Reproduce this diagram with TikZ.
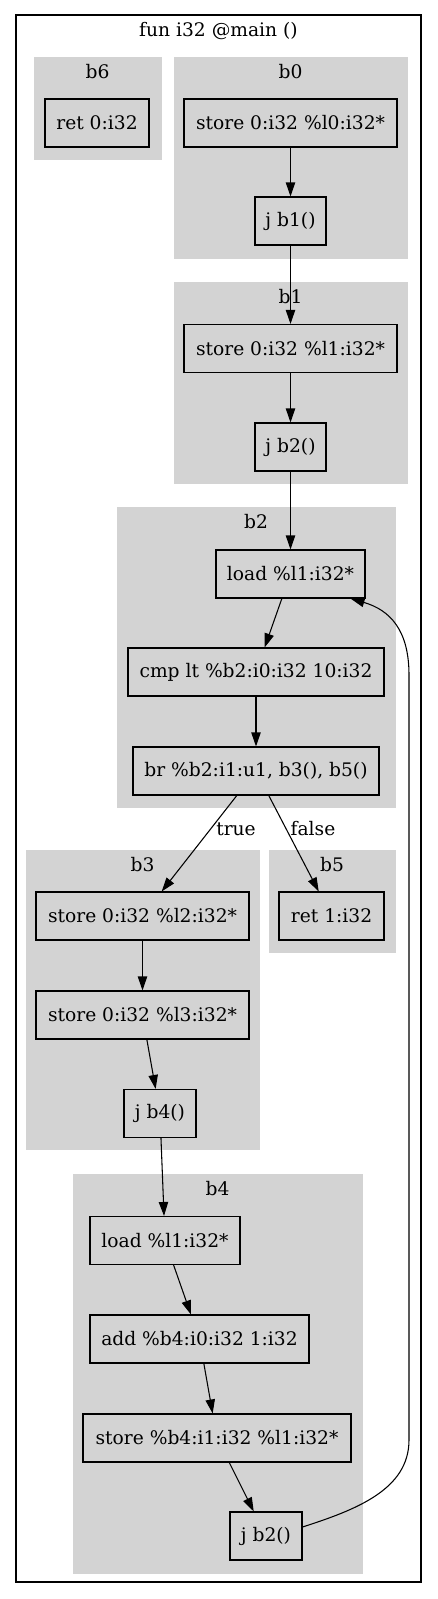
\documentclass[tikz,border=0pt]{standalone}
\usepackage{fontspec}
\setmainfont{DejaVu Serif}
\usetikzlibrary{arrows.meta}
\definecolor{clustergray}{RGB}{211,211,211}
\begin{document}
\begin{tikzpicture}[x=0.75pt,y=-0.75pt,
  every node/.style={font=\fontsize{14}{16}\selectfont},
  op/.style={draw=black,line width=0.8pt,rectangle,inner sep=2pt,minimum height=36pt,anchor=center},
  cluster/.style={fill=clustergray,draw=clustergray},
  clabel/.style={inner sep=0pt,anchor=center},
  edge/.style={draw=black,line width=0.8pt,-{Triangle[length=10.5pt,width=7pt]}},
  elabel/.style={inner sep=0pt,anchor=center}]
\useasboundingbox (0,0) rectangle (437,1599);
\fill[white] (0,0) rectangle (437,1599);
% outer frame
\draw[line width=0.8pt] (16,15) rectangle (421,1582);
\node[clabel] (title) at (218.5,31) {fun i32 @main ()};
% clusters
\path[cluster] (34,57) rectangle (161,159);
\node[clabel] (lb6) at (97.5,72) {b6};
\path[cluster] (174,57) rectangle (407,258);
\node[clabel] (lb0) at (290.5,72) {b0};
\path[cluster] (174,282) rectangle (407,483);
\node[clabel] (lb1) at (290.5,297) {b1};
\path[cluster] (117,507) rectangle (395,807);
\node[clabel] (lb2) at (256,522) {b2};
\path[cluster] (26,850) rectangle (259,1149);
\node[clabel] (lb3) at (142.5,865) {b3};
\path[cluster] (269,850) rectangle (395,952);
\node[clabel] (lb5) at (332,865) {b5};
\path[cluster] (73,1174) rectangle (362,1573);
\node[clabel] (lb4) at (217.5,1189) {b4};
% nodes
\node[op,minimum width=78pt] (ret0) at (97,123) {ret 0:i32};
\node[op,minimum width=159.75pt] (st0) at (290.5,123) {store 0:i32 \%l0:i32*};
\node[op,minimum width=53.25pt] (jb1) at (290.5,221) {j b1()};
\node[op,minimum width=159.75pt] (st1) at (290.5,348.5) {store 0:i32 \%l1:i32*};
\node[op,minimum width=53.25pt] (jb2) at (290.5,447) {j b2()};
\node[op,minimum width=111.75pt] (ld2) at (290.5,574) {load \%l1:i32*};
\node[op,minimum width=192pt] (cmp) at (256,672) {cmp lt \%b2:i0:i32 10:i32};
\node[op,minimum width=184.5pt] (br) at (256,771) {br \%b2:i1:u1, b3(), b5()};
\node[op,minimum width=159.75pt] (st2) at (142.5,916) {store 0:i32 \%l2:i32*};
\node[op,minimum width=159.75pt] (st3) at (142.5,1015) {store 0:i32 \%l3:i32*};
\node[op,minimum width=54pt] (jb4) at (160,1113.5) {j b4()};
\node[op,minimum width=78.75pt] (ret1) at (331.5,916) {ret 1:i32};
\node[op,minimum width=112.5pt] (ld4) at (165,1240.5) {load \%l1:i32*};
\node[op,minimum width=164.25pt] (add) at (199.5,1339) {add \%b4:i0:i32 1:i32};
\node[op,minimum width=201pt] (st4) at (217,1438) {store \%b4:i1:i32 \%l1:i32*};
\node[op,minimum width=54pt] (jb2b) at (266,1536) {j b2()};
% edges
\draw[edge] (st0) -- (jb1);
\draw[edge] (jb1) -- (st1);
\draw[edge] (st1) -- (jb2);
\draw[edge] (jb2) -- (ld2);
\draw[edge] (ld2) -- (cmp);
\draw[edge] (cmp) -- (br);
\draw[edge] (br) -- (st2);
\draw[edge] (br) -- (ret1);
\node[elabel] (ltrue) at (236,829) {true};
\node[elabel] (lfalse) at (313,829) {false};
\draw[edge] (st2) -- (st3);
\draw[edge] (st3) -- (jb4);
\draw[edge] (jb4) -- (ld4);
\draw[edge] (ld4) -- (add);
\draw[edge] (add) -- (st4);
\draw[edge] (st4) -- (jb2b);
% back edge
\coordinate (bk1) at (409,1440);
\coordinate (bk2) at (409,675);
\draw[edge] ([yshift=9*0.75pt]jb2b.east) .. controls (355,1510) and (409,1490) .. (bk1)
  -- (bk2) .. controls (409,630) and (390,610) .. ([xshift=-15*0.75pt]ld2.south east);
\end{tikzpicture}
\end{document}
